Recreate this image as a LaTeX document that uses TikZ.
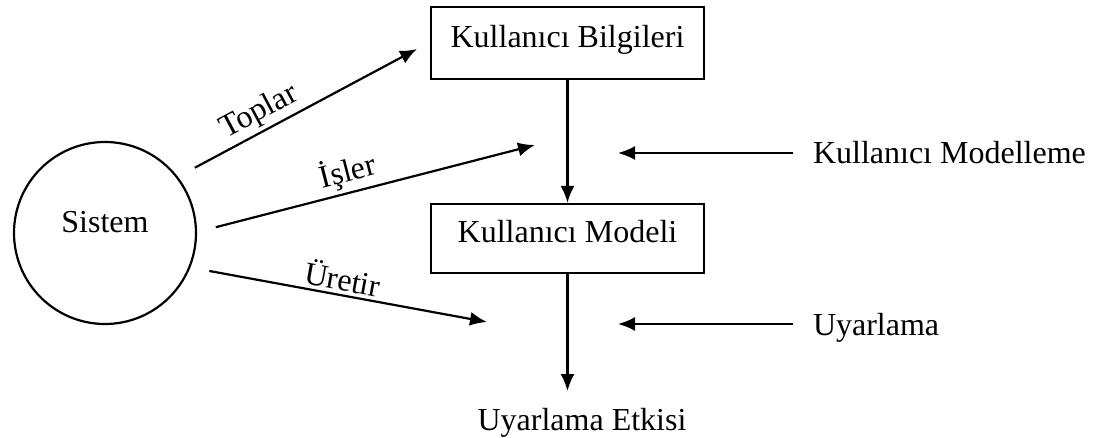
\documentclass[tikz,border=0pt]{standalone}
\usepackage{fontspec}
\setmainfont{Liberation Serif}
\usetikzlibrary{arrows.meta}

\begin{document}
\begin{tikzpicture}[x=1pt, y=-1pt, line width=2.2pt,
  font=\fontsize{32}{38}\selectfont,
  ok/.style={-{Latex[length=17pt,width=14pt]}},
  blok/.style={draw, minimum width=273pt, text depth=14pt},
  yazi/.style={inner sep=0pt, outer xsep=20pt, text height=22pt, text depth=0pt, anchor=west},
  etk/.style={sloped, above, inner sep=3pt}]
\useasboundingbox (0,0) rectangle (1095,438);
\node[draw, circle, minimum size=182pt, inner sep=0pt, outer sep=20pt, text depth=22pt] (sistem) at (105,233) {Sistem};
\node[blok, minimum height=72pt] (bilgi) at (567.5,43) {Kullanıcı Bilgileri};
\node[blok, minimum height=69pt] (model) at (567.5,238.5) {Kullanıcı Modeli};
\node[inner sep=0pt, outer ysep=17pt, text height=22pt, text depth=0pt] (etki) at (582,419) {Uyarlama Etkisi};
\node[yazi] (modelleme) at (793,153) {Kullanıcı Modelleme};
\node[yazi] (uyarlama) at (793,324) {Uyarlama};
% ok uclari
\coordinate (toplarUc) at (417,49);
\coordinate (islerUc) at (535,145);
\coordinate (uretirUc) at (487,322);
\coordinate (modellemeUc) at (618,153);
\coordinate (uyarlamaUc) at (618,324);
\draw[ok] (sistem.36) -- node[etk, pos=0.33] {Toplar} (toplarUc);
\draw[ok] (sistem.3) -- node[etk, pos=0.43] {İşler} (islerUc);
\draw[ok] (sistem.-20) -- node[etk, pos=0.47] {Üretir} (uretirUc);
\draw[ok] (bilgi.south) -- (model.north);
\draw[ok] (model.south) -- (model.south |- etki.north);
\draw[ok] (modelleme.west) -- (modellemeUc);
\draw[ok] (uyarlama.west) -- (uyarlamaUc);
\end{tikzpicture}
\end{document}
